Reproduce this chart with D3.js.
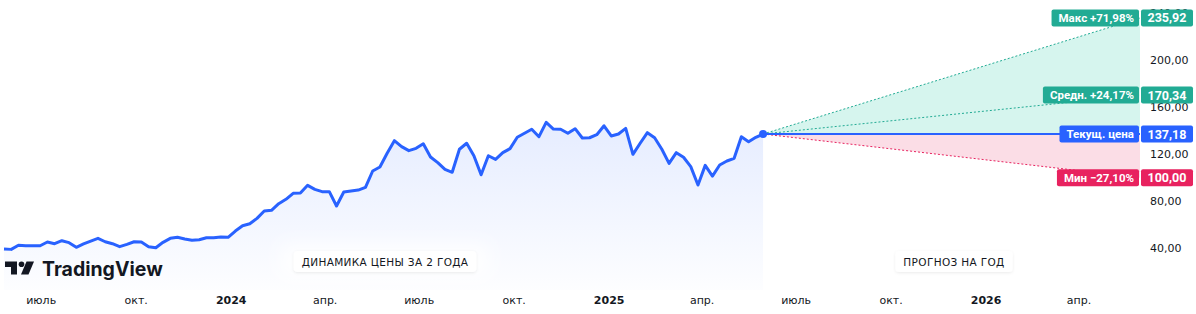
<!DOCTYPE html>
<html>
<head>
<meta charset="utf-8">
<script src="https://cdn.jsdelivr.net/npm/d3@7"></script>
<style>
  html, body { margin: 0; padding: 0; background: #fff; }
  svg { display: block; font-family: "DejaVu Sans", sans-serif; }
</style>
</head>
<body>
<div id="chart"></div>
<script>
// weekly closes, 2 years of history
var startDate = new Date(2023, 4, 26);
var prices = [39.3, 39.0, 42.5, 42.1, 42.1, 42.1, 45.3, 43.8, 46.4, 44.7,
    40.8, 43.6, 46.1, 48.4, 45.5, 43.8, 41.3, 43.3, 45.5, 45.3,
    41.3, 40.4, 45.0, 48.4, 49.3, 47.8, 46.7, 47.2, 48.9, 48.9,
    49.5, 49.3, 54.6, 59.1, 60.8, 65.4, 71.7, 72.2, 77.9, 81.6,
    86.7, 86.9, 93.5, 90.1, 88.1, 88.1, 75.9, 87.8, 88.7, 89.5,
    91.8, 105.7, 109.1, 120.8, 131.5, 126.4, 123.0, 125.0, 128.9, 117.6,
    112.8, 107.1, 104.6, 124.2, 129.3, 118.7, 102.5, 118.7, 115.6, 121.3,
    124.7, 134.4, 137.8, 141.2, 134.9, 147.1, 141.4, 141.2, 137.8, 141.7,
    133.8, 134.0, 136.6, 144.2, 135.5, 137.2, 142.0, 119.9, 129.3, 138.3,
    134.0, 124.2, 112.2, 121.3, 117.4, 109.4, 93.8, 110.5, 101.4, 110.8,
    114.2, 116.5, 134.9, 130.6, 134.4, 137.18];

// forecast targets (1 year)
var forecastNames = ["Макс", "Средн.", "Мин"];
var forecastValues = [235.92, 170.34, 100.00];
var currentLabel = "Текущ. цена";

var yTicks = [40, 80, 120, 160, 200, 240];
// quarter labels, by month index
var monthNames = { 3: "апр.", 6: "июль", 9: "окт." };
var sectionLabels = ["ДИНАМИКА ЦЕНЫ ЗА 2 ГОДА", "ПРОГНОЗ НА ГОД"];

var green = "#22ab94", red = "#e8225f", blue = "#2962ff";

var width = 1196, height = 314;
var plotRight = 1140;

var data = prices.map(function (p, i) {
    return { date: d3.timeWeek.offset(startDate, i), value: p };
});
var last = data[data.length - 1];
var endDate = d3.timeYear.offset(last.date, 1);

var x = d3.scaleTime()
    .domain([startDate, endDate])
    .range([4, plotRight]);

var y = d3.scaleLinear()
    .domain([0, 240])
    .range([295.2, 13.2]);

var svg = d3.select("#chart")
    .append("svg")
    .attr("width", width)
    .attr("height", height);

var defs = svg.append("defs");
var grad = defs.append("linearGradient")
    .attr("id", "histFill")
    .attr("x1", 0).attr("x2", 0).attr("y1", 0).attr("y2", 1);
grad.append("stop").attr("offset", "0%").attr("stop-color", blue).attr("stop-opacity", 0.12);
grad.append("stop").attr("offset", "100%").attr("stop-color", blue).attr("stop-opacity", 0.01);

var glow = defs.append("filter")
    .attr("id", "glow")
    .attr("x", "-50%").attr("y", "-150%").attr("width", "200%").attr("height", "400%");
glow.append("feGaussianBlur").attr("stdDeviation", 10);

var shadow = defs.append("filter")
    .attr("id", "shadow")
    .attr("x", "-20%").attr("y", "-50%").attr("width", "140%").attr("height", "200%");
shadow.append("feDropShadow")
    .attr("dx", 0).attr("dy", 1).attr("stdDeviation", 1.5)
    .attr("flood-color", "#000").attr("flood-opacity", 0.08);

// history area
var area = d3.area()
    .x(function (d) { return x(d.date); })
    .y0(290)
    .y1(function (d) { return y(d.value); });

svg.append("path")
    .datum(data)
    .attr("d", area)
    .attr("fill", "url(#histFill)");

// forecast fans
var x0 = x(last.date), x1 = x(endDate);
svg.append("path")
    .attr("d", "M" + x0 + "," + y(last.value) + "L" + x1 + "," + y(forecastValues[0]) + "L" + x1 + "," + y(last.value) + "Z")
    .attr("fill", "#d6f5ee");
svg.append("path")
    .attr("d", "M" + x0 + "," + y(last.value) + "L" + x1 + "," + y(forecastValues[2]) + "L" + x1 + "," + y(last.value) + "Z")
    .attr("fill", "#fbdde6");

forecastValues.forEach(function (v, i) {
    svg.append("line")
        .attr("x1", x0).attr("y1", y(last.value))
        .attr("x2", x1).attr("y2", y(v))
        .attr("stroke", i == 2 ? red : green)
        .attr("stroke-width", 1)
        .attr("stroke-dasharray", "2,2");
});

svg.append("line")
    .attr("x1", x0).attr("x2", x1)
    .attr("y1", y(last.value)).attr("y2", y(last.value))
    .attr("stroke", blue)
    .attr("stroke-width", 2);

// price line
var line = d3.line()
    .x(function (d) { return x(d.date); })
    .y(function (d) { return y(d.value); });

svg.append("path")
    .datum(data)
    .attr("d", line)
    .attr("fill", "none")
    .attr("stroke", blue)
    .attr("stroke-width", 3)
    .attr("stroke-linejoin", "round");

svg.append("circle")
    .attr("cx", x0).attr("cy", y(last.value))
    .attr("r", 4)
    .attr("fill", blue);

// y axis labels (right)
svg.append("rect")
    .attr("x", plotRight).attr("y", 0)
    .attr("width", width - plotRight).attr("height", height)
    .attr("fill", "#fff");

svg.selectAll(".ytick")
    .data(yTicks)
    .enter().append("text")
    .attr("class", "ytick")
    .attr("x", 1150)
    .attr("y", function (d) { return y(d) + 4; })
    .attr("font-size", "11px")
    .attr("fill", "#131722")
    .text(function (d) { return d3.format(".2f")(d).replace(".", ","); });

// x axis
var ticks = d3.timeMonth.every(3).range(d3.timeMonth.ceil(x.domain()[0]), x.domain()[1]);
svg.selectAll(".xtick")
    .data(ticks)
    .enter().append("text")
    .attr("class", "xtick")
    .attr("x", function (d) { return x(d); })
    .attr("y", 304)
    .attr("text-anchor", "middle")
    .attr("font-size", "11px")
    .attr("font-weight", function (d) { return d.getMonth() == 0 ? "bold" : "normal"; })
    .attr("fill", "#131722")
    .text(function (d) { return d.getMonth() == 0 ? d.getFullYear() : monthNames[d.getMonth()]; });

// section captions
function caption(cx, txt) {
    var g = svg.append("g");
    var t = g.append("text")
        .attr("x", cx).attr("y", 266)
        .attr("text-anchor", "middle")
        .attr("font-size", "10.5px")
        .attr("letter-spacing", "0.35px")
        .attr("fill", "#131722")
        .text(txt);
    var w = t.node().getComputedTextLength();
    g.insert("rect", "text")
        .attr("x", cx - w / 2 - 20).attr("y", 246)
        .attr("width", w + 40).attr("height", 30)
        .attr("fill", "#fff")
        .attr("filter", "url(#glow)");
    g.insert("rect", "text")
        .attr("x", cx - w / 2 - 8).attr("y", 251)
        .attr("width", w + 16).attr("height", 21)
        .attr("rx", 4)
        .attr("fill", "#fff")
        .attr("filter", "url(#shadow)");
}
caption(385, sectionLabels[0]);
caption(954, sectionLabels[1]);

// price labels on the right edge
function fmt(v) { return d3.format(".2f")(v).replace(".", ","); }
function pct(v) {
    var p = (v / last.value - 1) * 100;
    return (p >= 0 ? "+" : "\u2212") + fmt(Math.abs(p)) + "%";
}

var tags = [
    { name: forecastNames[0] + " " + pct(forecastValues[0]), value: forecastValues[0], color: green },
    { name: forecastNames[1] + " " + pct(forecastValues[1]), value: forecastValues[1], color: green },
    { name: currentLabel, value: last.value, color: blue },
    { name: forecastNames[2] + " " + pct(forecastValues[2]), value: forecastValues[2], color: red }
];

tags.forEach(function (d) {
    var cy = y(d.value);
    var g = svg.append("g");
    var t = g.append("text")
        .attr("x", plotRight - 6).attr("y", cy + 4)
        .attr("text-anchor", "end")
        .style("font-family", "Roboto, sans-serif")
        .style("font-size", "11.5px")
        .style("font-weight", 700)
        .attr("fill", "#fff")
        .text(d.name);
    var w = t.node().getComputedTextLength();
    g.insert("rect", "text")
        .attr("x", plotRight - w - 13).attr("y", cy - 8.5)
        .attr("width", w + 12).attr("height", 17)
        .attr("rx", 2)
        .attr("fill", d.color);
    g.append("rect")
        .attr("x", plotRight + 1).attr("y", cy - 8.5)
        .attr("width", 52).attr("height", 17)
        .attr("rx", 2)
        .attr("fill", d.color);
    g.append("text")
        .attr("x", plotRight + 27).attr("y", cy + 4.5)
        .attr("text-anchor", "middle")
        .style("font-family", "Roboto, sans-serif")
        .style("font-size", "12.5px")
        .style("font-weight", 700)
        .attr("fill", "#fff")
        .text(fmt(d.value));
});

// TradingView logo
var logo = svg.append("g").attr("fill", "#131722");
logo.append("path").attr("d", "M5,261.5h12v13h-6v-7.5h-6z");
logo.append("circle").attr("cx", 21.5).attr("cy", 264.3).attr("r", 2.8);
logo.append("path").attr("d", "M26.5,261.5h7.5l-5.5,13h-7.5z");
logo.append("text")
    .attr("x", 42).attr("y", 275.5)
    .style("font-family", "Inter, sans-serif")
    .style("font-size", "19.5px")
    .style("font-weight", 700)
    .attr("fill", "#131722")
    .text("TradingView");
</script>
</body>
</html>
